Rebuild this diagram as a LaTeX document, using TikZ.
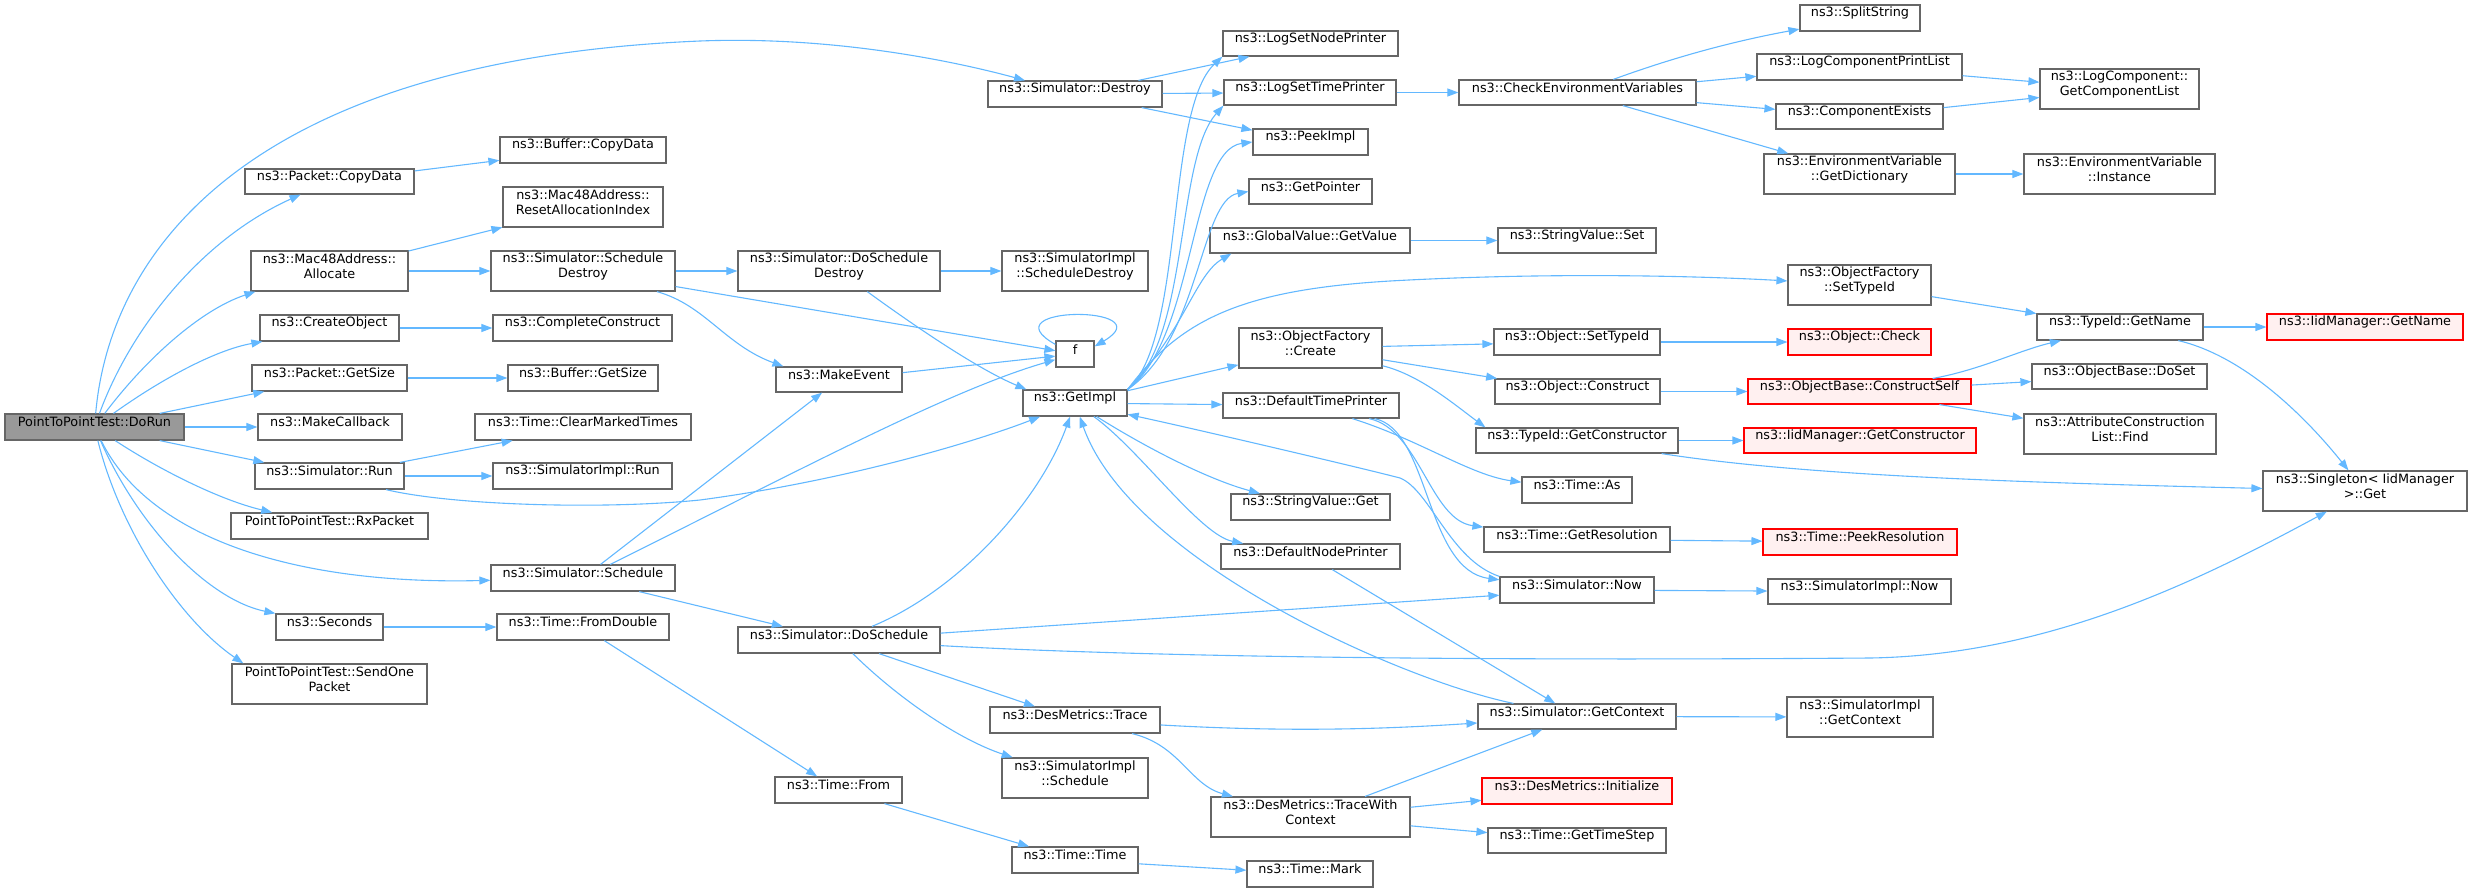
\documentclass[tikz,border=0pt]{standalone}
\usepackage{fontspec}
\setmainfont{DejaVu Sans}
\usetikzlibrary{arrows.meta,fit,calc}
\definecolor{edgec}{HTML}{63B8FF}
\definecolor{bord}{HTML}{666666}
\definecolor{redfill}{HTML}{FFF0F0}
\definecolor{rootfill}{HTML}{999999}
\tikzset{
 box/.style={draw=bord, fill=white, line width=1.2pt, inner sep=0pt, align=center, font=\fontsize{12.8}{15}\selectfont},
 redbox/.style={draw=red, fill=redfill, line width=1.1pt},
 rootbox/.style={fill=rootfill},
 edg/.style={draw=edgec, line width=1.1pt, -{Triangle[length=11pt,width=8pt]}},
}
\newcommand\mynode[7][]{\node[box,#1,fit={(#3,#4) (#5,#6)}] (#2) {#7};}
\begin{document}
\begin{tikzpicture}[x=1pt,y=-1pt]
\useasboundingbox (0,0) rectangle (2472,892);
\mynode[rootbox]{dorun}{5}{414}{184}{440}{PointToPointTest::DoRun}
\mynode{pktcopy}{245}{169}{414}{194}{ns3::Packet::CopyData}
\mynode{bufcopy}{500}{137}{666}{163}{ns3::Buffer::CopyData}
\mynode{macreset}{503}{187}{663}{227}{ns3::Mac48Address::\\ResetAllocationIndex}
\mynode{macalloc}{251}{251}{408}{291}{ns3::Mac48Address::\\Allocate}
\mynode{schdestroy}{491}{251}{675}{291}{ns3::Simulator::Schedule\\Destroy}
\mynode{createobj}{260}{315}{399}{341}{ns3::CreateObject}
\mynode{complete}{493}{315}{672}{341}{ns3::CompleteConstruct}
\mynode{pktsize}{252}{365}{407}{391}{ns3::Packet::GetSize}
\mynode{bufsize}{508}{365}{658}{391}{ns3::Buffer::GetSize}
\mynode{makecb}{258}{414}{402}{440}{ns3::MakeCallback}
\mynode{clearmarked}{475}{414}{691}{440}{ns3::Time::ClearMarkedTimes}
\mynode{simrun}{255}{463}{404}{489}{ns3::Simulator::Run}
\mynode{implrun}{493}{463}{672}{489}{ns3::SimulatorImpl::Run}
\mynode{rxpacket}{231}{513}{428}{539}{PointToPointTest::RxPacket}
\mynode{schedule}{491}{565}{675}{591}{ns3::Simulator::Schedule}
\mynode{seconds}{276}{614}{383}{640}{ns3::Seconds}
\mynode{fromdouble}{497}{614}{669}{640}{ns3::Time::FromDouble}
\mynode{sendone}{232}{664}{427}{704}{PointToPointTest::SendOne\\Packet}
\mynode{destroy}{988}{81}{1162}{107}{ns3::Simulator::Destroy}
\mynode{lognode}{1223}{31}{1398}{56}{ns3::LogSetNodePrinter}
\mynode{logtime}{1224}{80}{1396}{105}{ns3::LogSetTimePrinter}
\mynode{peekimpl}{1253}{129}{1368}{155}{ns3::PeekImpl}
\mynode{getpointer}{1249}{179}{1372}{204}{ns3::GetPointer}
\mynode{gvget}{1210}{228}{1410}{253}{ns3::GlobalValue::GetValue}
\mynode{doschdestroy}{738}{251}{940}{291}{ns3::Simulator::DoSchedule\\Destroy}
\mynode{implschdestroy}{1002}{251}{1148}{291}{ns3::SimulatorImpl\\::ScheduleDestroy}
\mynode{f}{1056}{341}{1094}{367}{f}
\mynode{makeevent}{776}{367}{902}{392}{ns3::MakeEvent}
\mynode{getimpl}{1023}{390}{1127}{416}{ns3::GetImpl}
\mynode{ofcreate}{1239}{328}{1382}{368}{ns3::ObjectFactory\\::Create}
\mynode{deftime}{1223}{393}{1399}{418}{ns3::DefaultTimePrinter}
\mynode{svget}{1231}{494}{1390}{520}{ns3::StringValue::Get}
\mynode{defnode}{1221}{544}{1400}{569}{ns3::DefaultNodePrinter}
\mynode{dosched}{738}{627}{940}{653}{ns3::Simulator::DoSchedule}
\mynode{dmtrace}{990}{707}{1160}{733}{ns3::DesMetrics::Trace}
\mynode{implsched}{1002}{758}{1148}{798}{ns3::SimulatorImpl\\::Schedule}
\mynode{timefrom}{775}{777}{902}{803}{ns3::Time::From}
\mynode{tracewith}{1211}{797}{1410}{837}{ns3::DesMetrics::TraceWith\\Context}
\mynode{timetime}{1012}{847}{1138}{873}{ns3::Time::Time}
\mynode{timemark}{1247}{861}{1373}{887}{ns3::Time::Mark}
\mynode{checkenv}{1459}{80}{1696}{105}{ns3::CheckEnvironmentVariables}
\mynode{split}{1800}{5}{1920}{31}{ns3::SplitString}
\mynode{lcprint}{1757}{54}{1962}{80}{ns3::LogComponentPrintList}
\mynode{compexists}{1776}{104}{1943}{129}{ns3::ComponentExists}
\mynode{envdict}{1764}{154}{1955}{194}{ns3::EnvironmentVariable\\::GetDictionary}
\mynode{lcget}{2040}{69}{2199}{109}{ns3::LogComponent::\\GetComponentList}
\mynode{envinst}{2024}{154}{2215}{194}{ns3::EnvironmentVariable\\::Instance}
\mynode{svset}{1498}{228}{1656}{253}{ns3::StringValue::Set}
\mynode{ofsettype}{1788}{265}{1931}{305}{ns3::ObjectFactory\\::SetTypeId}
\mynode{getname}{2037}{314}{2203}{340}{ns3::TypeId::GetName}
\mynode[redbox]{iidgetname}{2267}{314}{2463}{340}{ns3::IidManager::GetName}
\mynode{objsettype}{1494}{329}{1660}{355}{ns3::Object::SetTypeId}
\mynode[redbox]{objcheck}{1788}{329}{1931}{355}{ns3::Object::Check}
\mynode{objconstruct}{1495}{379}{1660}{404}{ns3::Object::Construct}
\mynode[redbox]{constructself}{1748}{379}{1971}{404}{ns3::ObjectBase::ConstructSelf}
\mynode{doset}{2032}{364}{2207}{389}{ns3::ObjectBase::DoSet}
\mynode{acfind}{2024}{414}{2216}{454}{ns3::AttributeConstruction\\List::Find}
\mynode{getctor}{1476}{428}{1678}{453}{ns3::TypeId::GetConstructor}
\mynode[redbox]{iidgetctor}{1744}{428}{1976}{453}{ns3::IidManager::GetConstructor}
\mynode{singleton}{2263}{471}{2467}{511}{ns3::Singleton< IidManager\\>::Get}
\mynode{timeas}{1522}{477}{1632}{503}{ns3::Time::As}
\mynode{getres}{1484}{527}{1670}{552}{ns3::Time::GetResolution}
\mynode[redbox]{peekres}{1763}{529}{1957}{555}{ns3::Time::PeekResolution}
\mynode{simnow}{1500}{577}{1654}{603}{ns3::Simulator::Now}
\mynode{implnow}{1768}{579}{1951}{604}{ns3::SimulatorImpl::Now}
\mynode{getctx}{1478}{704}{1676}{729}{ns3::Simulator::GetContext}
\mynode{implctx}{1787}{697}{1933}{737}{ns3::SimulatorImpl\\::GetContext}
\mynode[redbox]{dminit}{1482}{778}{1672}{804}{ns3::DesMetrics::Initialize}
\mynode{timestep}{1488}{828}{1666}{853}{ns3::Time::GetTimeStep}
% edges from DoRun
\draw[edg] (dorun) .. controls (110,250) and (250,60) .. (700,41) .. controls (830,36) and (950,60) .. (destroy);
\draw[edg] (dorun) .. controls (130,330) and (200,240) .. (pktcopy);
\draw[edg] (dorun) .. controls (145,360) and (200,310) .. ($(macalloc.south west)+(5,0)$);
\draw[edg] (dorun) .. controls (160,380) and (215,350) .. ($(createobj.south west)+(3,0)$);
\draw[edg] (dorun) -- (pktsize);
\draw[edg] (dorun) -- (makecb);
\draw[edg] (dorun) -- (simrun);
\draw[edg] (dorun) .. controls (160,470) and (220,500) .. (rxpacket);
\draw[edg] (dorun) .. controls (150,540) and (300,585) .. (schedule);
\draw[edg] (dorun) .. controls (140,530) and (210,600) .. (seconds.north west);
\draw[edg] (dorun) .. controls (120,530) and (180,620) .. ($(sendone.north west)+(12,0)$);
% left column
\draw[edg] (pktcopy) -- (bufcopy);
\draw[edg] (macalloc) -- (macreset);
\draw[edg] (macalloc) -- (schdestroy);
\draw[edg] (createobj) -- (complete);
\draw[edg] (pktsize) -- (bufsize);
\draw[edg] (simrun) -- (clearmarked);
\draw[edg] (simrun) -- (implrun);
\draw[edg] (simrun) .. controls (450,505) and (600,510) .. (700,500) .. controls (850,480) and (980,440) .. (getimpl);
\draw[edg] (seconds) -- (fromdouble);
\draw[edg] (fromdouble) -- (timefrom);
\draw[edg] (timefrom) -- (timetime);
\draw[edg] (timetime) -- (timemark);
\draw[edg] (schedule) -- (makeevent);
\draw[edg] (schedule) .. controls (800,470) and (950,390) .. (f);
\draw[edg] (schedule) -- (dosched);
\draw[edg] (schdestroy) -- (doschdestroy);
\draw[edg] (schdestroy) -- (f);
\draw[edg] (schdestroy) .. controls (705,305) and (725,345) .. ($(makeevent.north west)+(8,0)$);
\draw[edg] (makeevent) -- (f);
\draw[edg] ([yshift=-4pt]f.north west) .. controls (985,305) and (1165,305) .. ([yshift=-6pt]f.north east);
\draw[edg] (doschdestroy) -- (implschdestroy);
\draw[edg] (doschdestroy) .. controls (920,330) and (980,370) .. ($(getimpl.north west)+(4,0)$);
% DoSchedule
\draw[edg] (dosched) .. controls (960,590) and (1040,500) .. (getimpl);
\draw[edg] (dosched) -- (simnow);
\draw[edg] (dosched) .. controls (1200,660) and (1600,660) .. (1870,658) .. controls (2050,655) and (2200,580) .. (singleton);
\draw[edg] (dosched) -- (dmtrace);
\draw[edg] (dosched) .. controls (900,700) and (960,740) .. (implsched);
\draw[edg] (dmtrace) .. controls (1300,733) and (1400,728) .. (getctx);
\draw[edg] (dmtrace) .. controls (1180,745) and (1190,785) .. (tracewith);
\draw[edg] (tracewith) -- (getctx);
\draw[edg] (tracewith) -- (dminit);
\draw[edg] (tracewith) -- (timestep);
\draw[edg] (getctx) -- (implctx);
\draw[edg] (getctx) .. controls (1400,680) and (1130,560) .. (getimpl);
\draw[edg] (defnode) -- (getctx);
% GetImpl
\draw[edg] (getimpl) .. controls (1140,450) and (1200,535) .. (defnode);
\draw[edg] (getimpl) .. controls (1150,450) and (1210,480) .. (svget);
\draw[edg] (simnow.north west) .. controls (1450,560) and (1430,490) .. (1400,478) .. controls (1370,470) and (1200,430) .. (getimpl);
\draw[edg] (getimpl) -- (deftime);
\draw[edg] (getimpl) -- (ofcreate);
\draw[edg] (getimpl.north east) .. controls (1185,340) and (1165,110) .. (lognode.south west);
\draw[edg] (getimpl.north east) .. controls (1190,340) and (1175,160) .. (logtime.south west);
\draw[edg] (getimpl.north east) .. controls (1195,340) and (1190,150) .. (peekimpl.west);
\draw[edg] (getimpl.north east) .. controls (1200,340) and (1200,200) .. (getpointer.west);
\draw[edg] (getimpl.north east) .. controls (1185,330) and (1195,275) .. ($(gvget.south west)+(22,0)$);
\draw[edg] (getimpl.north east) .. controls (1180,320) and (1240,290) .. (1390,281) .. controls (1550,272) and (1700,276) .. (ofsettype);
% Destroy
\draw[edg] (destroy) -- (lognode);
\draw[edg] (destroy) -- (logtime);
\draw[edg] (destroy) -- (peekimpl);
\draw[edg] (logtime) -- (checkenv);
\draw[edg] (checkenv) .. controls (1680,55) and (1740,40) .. (split);
\draw[edg] (checkenv) -- (lcprint);
\draw[edg] (checkenv) -- (compexists);
\draw[edg] (checkenv) -- (envdict);
\draw[edg] (lcprint) -- (lcget);
\draw[edg] (compexists) -- (lcget);
\draw[edg] (envdict) -- (envinst);
\draw[edg] (gvget) -- (svset);
% ObjectFactory
\draw[edg] (ofsettype) -- (getname);
\draw[edg] (ofcreate) -- (objsettype);
\draw[edg] (ofcreate) -- (objconstruct);
\draw[edg] (ofcreate) .. controls (1420,375) and (1455,405) .. ($(getctor.north west)+(10,0)$);
\draw[edg] (objsettype) -- (objcheck);
\draw[edg] (objconstruct) -- (constructself);
\draw[edg] (constructself) .. controls (1980,370) and (2020,350) .. (getname);
\draw[edg] (constructself) -- (doset);
\draw[edg] (constructself) -- (acfind);
\draw[edg] (getctor) -- (iidgetctor);
\draw[edg] (getctor) .. controls (1800,475) and (2000,482) .. (singleton);
\draw[edg] (getname) -- (iidgetname);
\draw[edg] (getname) .. controls (2240,355) and (2300,410) .. (singleton);
% DefaultTimePrinter
\draw[edg] (deftime) .. controls (1420,440) and (1470,475) .. (timeas);
\draw[edg] (deftime) .. controls (1420,430) and (1430,520) .. (getres);
\draw[edg] (deftime) .. controls (1430,430) and (1425,570) .. (simnow);
\draw[edg] (getres) -- (peekres);
\draw[edg] (simnow) -- (implnow);
\end{tikzpicture}
\end{document}
